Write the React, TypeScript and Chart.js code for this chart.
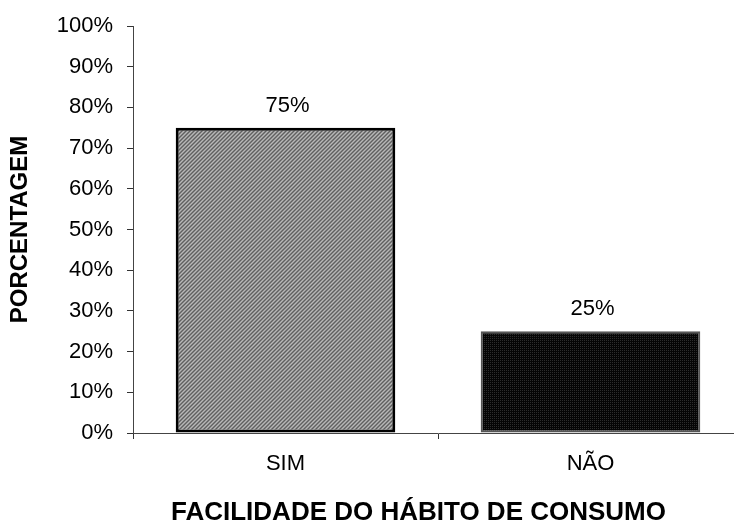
import React, { useEffect, useRef } from "react";
import { Chart, registerables } from "chart.js";

Chart.register(...registerables);

// Survey answers and their shares (%)
const categories = ["SIM", "NÃO"];
const percentages = [75, 25];
const yTickValues = [0, 10, 20, 30, 40, 50, 60, 70, 80, 90, 100];
const xAxisTitle = "FACILIDADE DO HÁBITO DE CONSUMO";
const yAxisTitle = "PORCENTAGEM";

const FONT = "'Liberation Sans', Arial, Helvetica, sans-serif";

function makePattern(kind: "hatch" | "dots"): CanvasPattern | string {
  const tile = document.createElement("canvas");
  tile.width = 4;
  tile.height = 4;
  const c = tile.getContext("2d");
  if (!c) return kind === "hatch" ? "#888" : "#111";
  for (let x = 0; x < 4; x++) {
    for (let y = 0; y < 4; y++) {
      if (kind === "hatch") {
        const k = (x + y) % 4;
        c.fillStyle = k === 0 ? "#606060" : k === 2 ? "#b8b8b8" : "#8c8c8c";
      } else {
        c.fillStyle = x % 2 === 0 && y % 2 === 0 ? "#2c2c2c" : "#050505";
      }
      c.fillRect(x, y, 1, 1);
    }
  }
  const ctx = document.createElement("canvas").getContext("2d");
  const p = ctx ? ctx.createPattern(tile, "repeat") : null;
  return p || (kind === "hatch" ? "#888" : "#111");
}

// Writes each bar's value above it
const valueLabels = {
  id: "valueLabels",
  afterDatasetsDraw(chart: any) {
    const { ctx } = chart;
    const meta = chart.getDatasetMeta(0);
    ctx.save();
    ctx.font = `22px ${FONT}`;
    ctx.fillStyle = "#000";
    ctx.textAlign = "center";
    ctx.textBaseline = "middle";
    meta.data.forEach((bar: any, i: number) => {
      ctx.fillText(`${percentages[i]}%`, bar.x + 2, bar.y - 22);
    });
    ctx.restore();
  },
};

// Category-axis title, centred under the visible part of the plot
const xTitle = {
  id: "xTitle",
  afterDraw(chart: any) {
    const { ctx, chartArea } = chart;
    ctx.save();
    ctx.font = `bold 26px ${FONT}`;
    ctx.fillStyle = "#000";
    ctx.textAlign = "center";
    ctx.textBaseline = "middle";
    ctx.fillText(xAxisTitle, (chartArea.left + 704) / 2, chart.height - 14);
    ctx.restore();
  },
};

export default function App() {
  const canvasRef = useRef<HTMLCanvasElement | null>(null);

  useEffect(() => {
    const canvas = canvasRef.current;
    if (!canvas) return;
    const chart = new Chart(canvas, {
      type: "bar",
      data: {
        labels: categories,
        datasets: [
          {
            data: percentages,
            backgroundColor: [makePattern("hatch"), makePattern("dots")] as any,
            borderColor: ["#000000", "#555555"],
            borderWidth: [3, 2] as any,
            borderSkipped: false,
            barPercentage: 0.72,
            categoryPercentage: 1,
          },
        ],
      },
      options: {
        responsive: false,
        animation: false,
        devicePixelRatio: 1,
        layout: { padding: { top: 26, right: 17, bottom: 0, left: 0 } },
        plugins: {
          legend: { display: false },
          tooltip: { enabled: false },
        },
        scales: {
          x: {
            grid: {
              display: true,
              drawOnChartArea: false,
              drawTicks: true,
              tickLength: 6,
              color: "#333",
              offset: true,
            },
            border: { display: true, color: "#444", width: 1 },
            ticks: {
              color: "#000",
              font: { family: FONT, size: 22, lineHeight: 1 },
              padding: 14,
            },
            afterFit(scale: any) {
              scale.height = 94;
            },
          },
          y: {
            min: 0,
            max: 100,
            afterBuildTicks(scale: any) {
              scale.ticks = yTickValues.map((v) => ({ value: v }));
            },
            grid: {
              display: true,
              drawOnChartArea: false,
              drawTicks: true,
              tickLength: 6,
              color: "#333",
            },
            border: { display: true, color: "#444", width: 1 },
            ticks: {
              color: "#000",
              font: { family: FONT, size: 22, lineHeight: 1 },
              padding: 14,
              callback: (v: any) => `${v}%`,
            },
            title: {
              display: true,
              text: yAxisTitle,
              color: "#000",
              font: { family: FONT, size: 24, weight: "bold", lineHeight: 1 },
              padding: { top: 8, bottom: 0 },
            },
            afterFit(scale: any) {
              scale.width = 133;
            },
          },
        },
      },
      plugins: [valueLabels, xTitle],
    });
    return () => chart.destroy();
  }, []);

  return (
    <div
      style={{
        position: "fixed",
        left: 0,
        top: 0,
        width: 734,
        height: 527,
        overflow: "hidden",
        background: "#fff",
      }}
    >
      <canvas
        ref={canvasRef}
        width={760}
        height={527}
        style={{ width: 760, height: 527, display: "block" }}
      />
    </div>
  );
}
